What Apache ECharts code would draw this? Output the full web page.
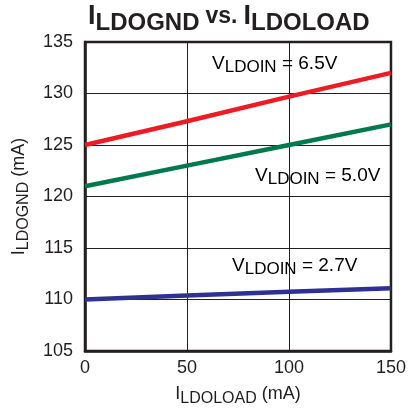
<!DOCTYPE html>
<html>
<head>
<meta charset="utf-8">
<script src="https://cdn.jsdelivr.net/npm/echarts@6/dist/echarts.min.js"></script>
<style>
html, body { margin: 0; padding: 0; background: #fff; }
#chart { width: 409px; height: 412px; }
</style>
</head>
<body>
<div id="chart"></div>
<script>
// 负载电流 (mA)
const loadCurrent = [0, 50, 100, 150];
// 各输入电压下的接地电流 (mA)
const gnd65 = [125, 127.3, 129.7, 132];
const gnd50 = [121, 123, 125, 127];
const gnd27 = [110, 110.4, 110.75, 111.1];
const seriesNames = ['6.5V', '5.0V', '2.7V'];

const FONT = '"Liberation Sans", Arial, sans-serif';
const INK = '#231f20';

const pairs = arr => loadCurrent.map((x, i) => [x, arr[i]]);

// 下标富文本样式
const subRich = (big, small, drop) => ({
    m: { fontSize: big, fontFamily: FONT, color: INK, verticalAlign: 'top', lineHeight: big + drop },
    s: { fontSize: small, fontFamily: FONT, color: INK, verticalAlign: 'top', padding: [drop, 0, 0, 0], lineHeight: big + drop }
});

let myChart = echarts.init(document.getElementById('chart'));

const lineSeries = (name, data, color) => ({
    name: name,
    type: 'line',
    data: pairs(data),
    symbol: 'none',
    lineStyle: { color: color, width: 4.5 },
    z: 3
});

const vLabel = (left, top, text) => ({
    type: 'text',
    left: left,
    top: top,
    style: {
        text: '{m|V}{s|LDOIN}{m| = ' + text + '}',
        rich: subRich(19, 17, 5)
    },
    z: 10
});

myChart.setOption({
    animation: false,
    title: {
        text: '{m|I}{s|LDOGND}{v|vs.}{m|I}{s|LDOLOAD}',
        left: 83,
        top: -2,
        textStyle: {
            rich: {
                m: { fontSize: 27, fontWeight: 'bold', fontFamily: FONT, color: INK, verticalAlign: 'top', lineHeight: 34 },
                s: { fontSize: 24, fontWeight: 'bold', fontFamily: FONT, color: INK, verticalAlign: 'top', padding: [8, 0, 0, 0], lineHeight: 34 },
                v: { fontSize: 23, fontWeight: 'bold', fontFamily: FONT, color: INK, verticalAlign: 'top', padding: [2, 6, 0, 6], lineHeight: 34 }
            }
        }
    },
    grid: {
        left: 85,
        right: 16,
        top: 42,
        bottom: 60,
        show: true,
        borderColor: INK,
        borderWidth: 2.5
    },
    xAxis: {
        type: 'value',
        min: 0,
        max: 150,
        interval: 50,
        name: '{m|I}{s|LDOLOAD}{m| (mA)}',
        nameLocation: 'middle',
        nameGap: 34,
        nameTextStyle: { rich: subRich(18, 16, 6) },
        axisLine: { lineStyle: { color: INK, width: 2.5 } },
        axisTick: { show: false },
        axisLabel: { color: INK, fontSize: 18, fontFamily: FONT, margin: 8 },
        splitLine: { lineStyle: { color: INK, width: 1 } }
    },
    yAxis: {
        type: 'value',
        min: 105,
        max: 135,
        interval: 5,
        name: '{m|I}{s|LDOGND}{m| (mA)}',
        nameLocation: 'middle',
        nameRotate: 90,
        nameGap: 50,
        nameTextStyle: { rich: subRich(18, 16, 6) },
        axisLine: { lineStyle: { color: INK, width: 2.5 } },
        axisTick: { show: false },
        axisLabel: { color: INK, fontSize: 18, fontFamily: FONT, margin: 12 },
        splitLine: { lineStyle: { color: INK, width: 1 } }
    },
    graphic: [
        vLabel(212, 54, '6.5V'),
        vLabel(255, 166, '5.0V'),
        vLabel(232, 256, '2.7V')
    ],
    series: [
        lineSeries(seriesNames[0], gnd65, '#ed1c24'),
        lineSeries(seriesNames[1], gnd50, '#007a4d'),
        lineSeries(seriesNames[2], gnd27, '#2e3192')
    ]
});
window.addEventListener('resize', function () {
    myChart.resize();
});
</script>
</body>
</html>
